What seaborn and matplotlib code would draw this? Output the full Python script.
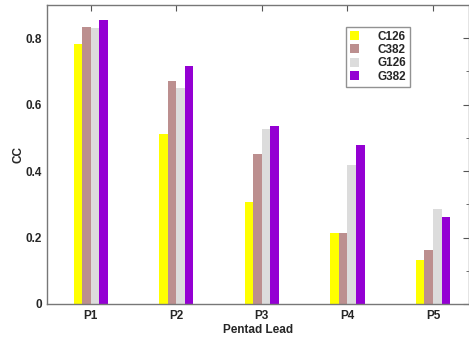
import pandas as pd
import seaborn as sns
import matplotlib.pyplot as plt
import matplotlib.ticker as ticker

# values
leads = ["P1", "P2", "P3", "P4", "P5"]
c126 = [0.783, 0.511, 0.308, 0.214, 0.132]
c382 = [0.835, 0.671, 0.451, 0.214, 0.164]
g126 = [0.831, 0.649, 0.526, 0.417, 0.286]
g382 = [0.855, 0.715, 0.537, 0.478, 0.262]
series = ["C126", "C382", "G126", "G382"]
colors = ["#ffff00", "#bc8f8f", "#dcdcdc", "#9400d3"]

rows = []
for name, vals in zip(series, [c126, c382, g126, g382]):
    for lead, v in zip(leads, vals):
        rows.append({"lead": lead, "model": name, "cc": v})
df = pd.DataFrame(rows)

sns.set_style("white")
plt.rcParams['font.family'] = ['Liberation Sans', 'DejaVu Sans']
plt.rcParams['font.weight'] = 'bold'

fig = plt.figure(figsize=(4.69, 3.40), dpi=100)
ax = fig.add_axes([47 / 469, 36 / 340, 422 / 469, 299 / 340])

sns.barplot(data=df, x="lead", y="cc", hue="model", palette=colors,
            width=0.4, errorbar=None, saturation=1, ax=ax, linewidth=0)

ax.set_xlim(-0.51, 4.42)
ax.set_ylim(0, 0.9)
ax.yaxis.set_major_locator(ticker.FixedLocator([0, 0.2, 0.4, 0.6, 0.8]))
ax.yaxis.set_major_formatter(ticker.FixedFormatter(["0", "0.2", "0.4", "0.6", "0.8"]))
ax.yaxis.set_minor_locator(ticker.MultipleLocator(0.1))
ax.tick_params(axis="both", which="both", direction="in", top=True, right=True,
               color="#555555", labelsize=8.5)
ax.tick_params(axis="both", which="major", length=4)
ax.tick_params(axis="y", which="minor", length=2)
ax.tick_params(axis="x", pad=4)
for lbl in ax.get_xticklabels() + ax.get_yticklabels():
    lbl.set_fontweight("bold")
for sp in ax.spines.values():
    sp.set_color("#777777")
    sp.set_linewidth(1.0)

ax.set_xlabel("Pentad Lead", fontsize=8.5, fontweight="bold", labelpad=2)
ax.set_ylabel("CC", fontsize=8.5, fontweight="bold", labelpad=1)

leg = ax.legend(loc="upper left", bbox_to_anchor=(0.708, 0.928), fontsize=8.5,
                frameon=True, fancybox=False, handlelength=0.8, handleheight=0.8,
                handletextpad=1.5, labelspacing=0.12, borderpad=0.35,
                borderaxespad=0)
leg.get_frame().set_edgecolor("#777777")
leg.get_frame().set_linewidth(1.0)
for t in leg.get_texts():
    t.set_fontweight("bold")

fig.savefig("out.png", dpi=100)
